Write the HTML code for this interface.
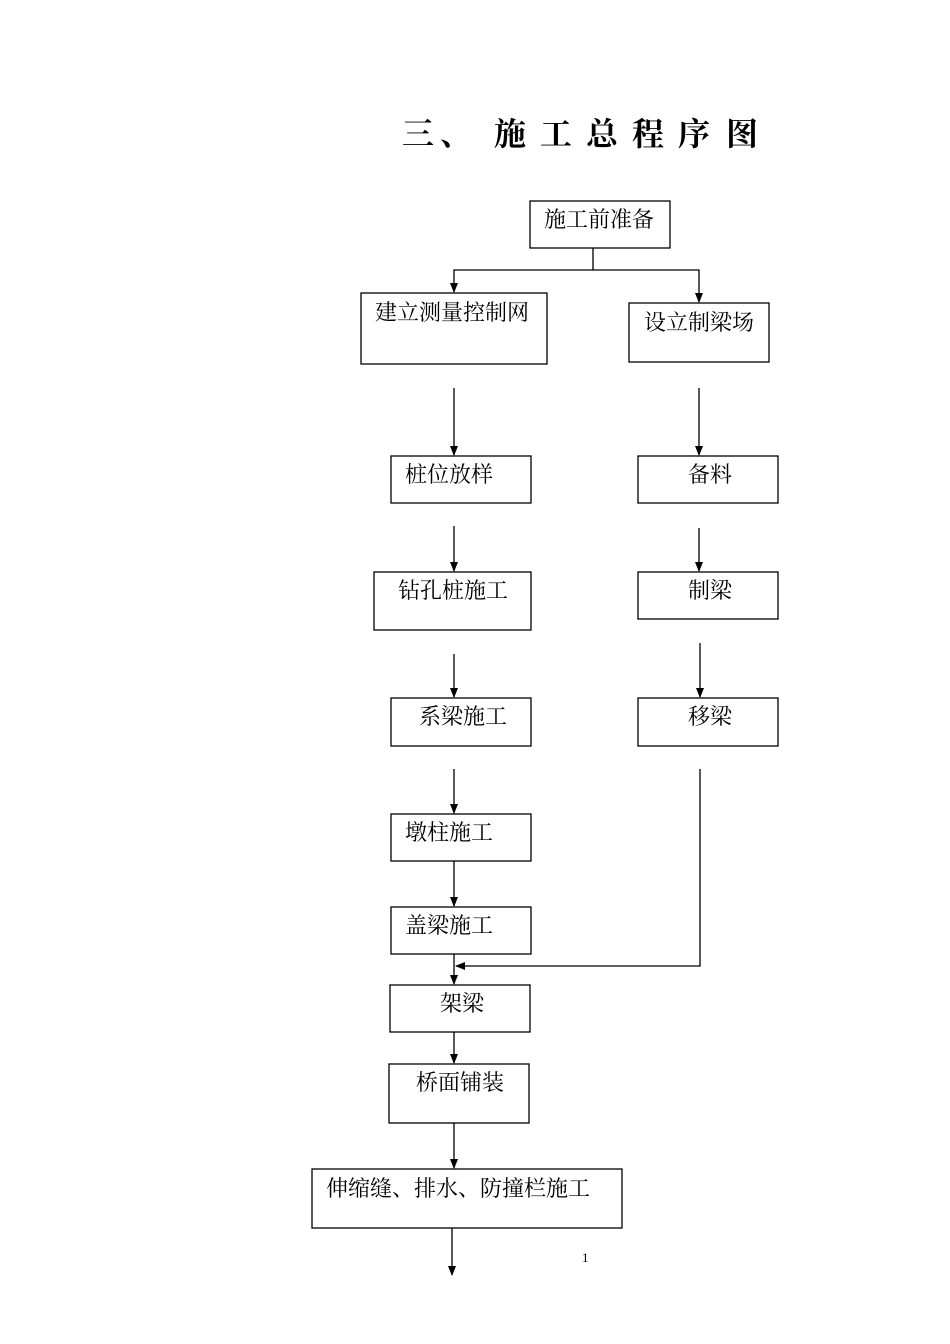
<!DOCTYPE html>
<html><head><meta charset="utf-8"><style>
html,body{margin:0;padding:0;background:#fff;}
svg{display:block;}
text{font-family:"Liberation Serif","Noto Serif CJK SC",serif;fill:#000;}
</style></head><body>
<svg width="950" height="1344" viewBox="0 0 950 1344" xmlns="http://www.w3.org/2000/svg">
<defs><marker id="a" markerWidth="10" markerHeight="10" refX="9" refY="5" orient="auto" markerUnits="userSpaceOnUse"><path d="M0,1 L10,5 L0,9 Z" fill="#000"/></marker></defs>
<g font-size="32" font-weight="bold" text-anchor="middle">
<text x="418" y="145">三</text><text x="456" y="145">、</text>
<text x="510" y="145">施</text><text x="556" y="145">工</text><text x="602" y="145">总</text>
<text x="648" y="145">程</text><text x="694" y="145">序</text><text x="742" y="145">图</text>
</g>
<g fill="none" stroke="#000" stroke-width="1.3">
<rect x="530" y="201" width="140" height="47"/>
<rect x="361" y="293" width="186" height="71"/>
<rect x="629" y="303" width="140" height="59"/>
<rect x="391" y="456" width="140" height="47"/>
<rect x="638" y="456" width="140" height="47"/>
<rect x="374" y="572" width="157" height="58"/>
<rect x="638" y="572" width="140" height="47"/>
<rect x="391" y="698" width="140" height="48"/>
<rect x="638" y="698" width="140" height="48"/>
<rect x="391" y="814" width="140" height="47"/>
<rect x="391" y="907" width="140" height="47"/>
<rect x="390" y="985" width="140" height="47"/>
<rect x="389" y="1064" width="140" height="59"/>
<rect x="312" y="1169" width="310" height="59"/>
<polyline points="593,248 593,270 454,270 454,292" marker-end="url(#a)"/>
<polyline points="593,270 699,270 699,302" marker-end="url(#a)"/>
<line x1="454" y1="388" x2="454" y2="455" marker-end="url(#a)"/>
<line x1="699" y1="388" x2="699" y2="455" marker-end="url(#a)"/>
<line x1="454" y1="526" x2="454" y2="571" marker-end="url(#a)"/>
<line x1="699" y1="528" x2="699" y2="571" marker-end="url(#a)"/>
<line x1="454" y1="654" x2="454" y2="697" marker-end="url(#a)"/>
<line x1="700" y1="643" x2="700" y2="697" marker-end="url(#a)"/>
<line x1="454" y1="769" x2="454" y2="813" marker-end="url(#a)"/>
<line x1="454" y1="861" x2="454" y2="906" marker-end="url(#a)"/>
<line x1="454" y1="954" x2="454" y2="984" marker-end="url(#a)"/>
<polyline points="700,769 700,966 456,966" marker-end="url(#a)"/>
<line x1="454" y1="1032" x2="454" y2="1063" marker-end="url(#a)"/>
<line x1="454" y1="1123" x2="454" y2="1168" marker-end="url(#a)"/>
<line x1="452" y1="1228" x2="452" y2="1275" marker-end="url(#a)"/>
</g>
<g font-size="22">
<text x="544" y="227">施工前准备</text>
<text x="375" y="320">建立测量控制网</text>
<text x="644" y="330">设立制梁场</text>
<text x="405" y="482">桩位放样</text>
<text x="688" y="482">备料</text>
<text x="398" y="598">钻孔桩施工</text>
<text x="688" y="598">制梁</text>
<text x="419" y="724">系梁施工</text>
<text x="688" y="724">移梁</text>
<text x="405" y="840">墩柱施工</text>
<text x="405" y="933">盖梁施工</text>
<text x="440" y="1011">架梁</text>
<text x="416" y="1090">桥面铺装</text>
<text x="326" y="1196">伸缩缝、排水、防撞栏施工</text>
</g>
<text x="582" y="1262" font-size="13">1</text>
</svg>
</body></html>
